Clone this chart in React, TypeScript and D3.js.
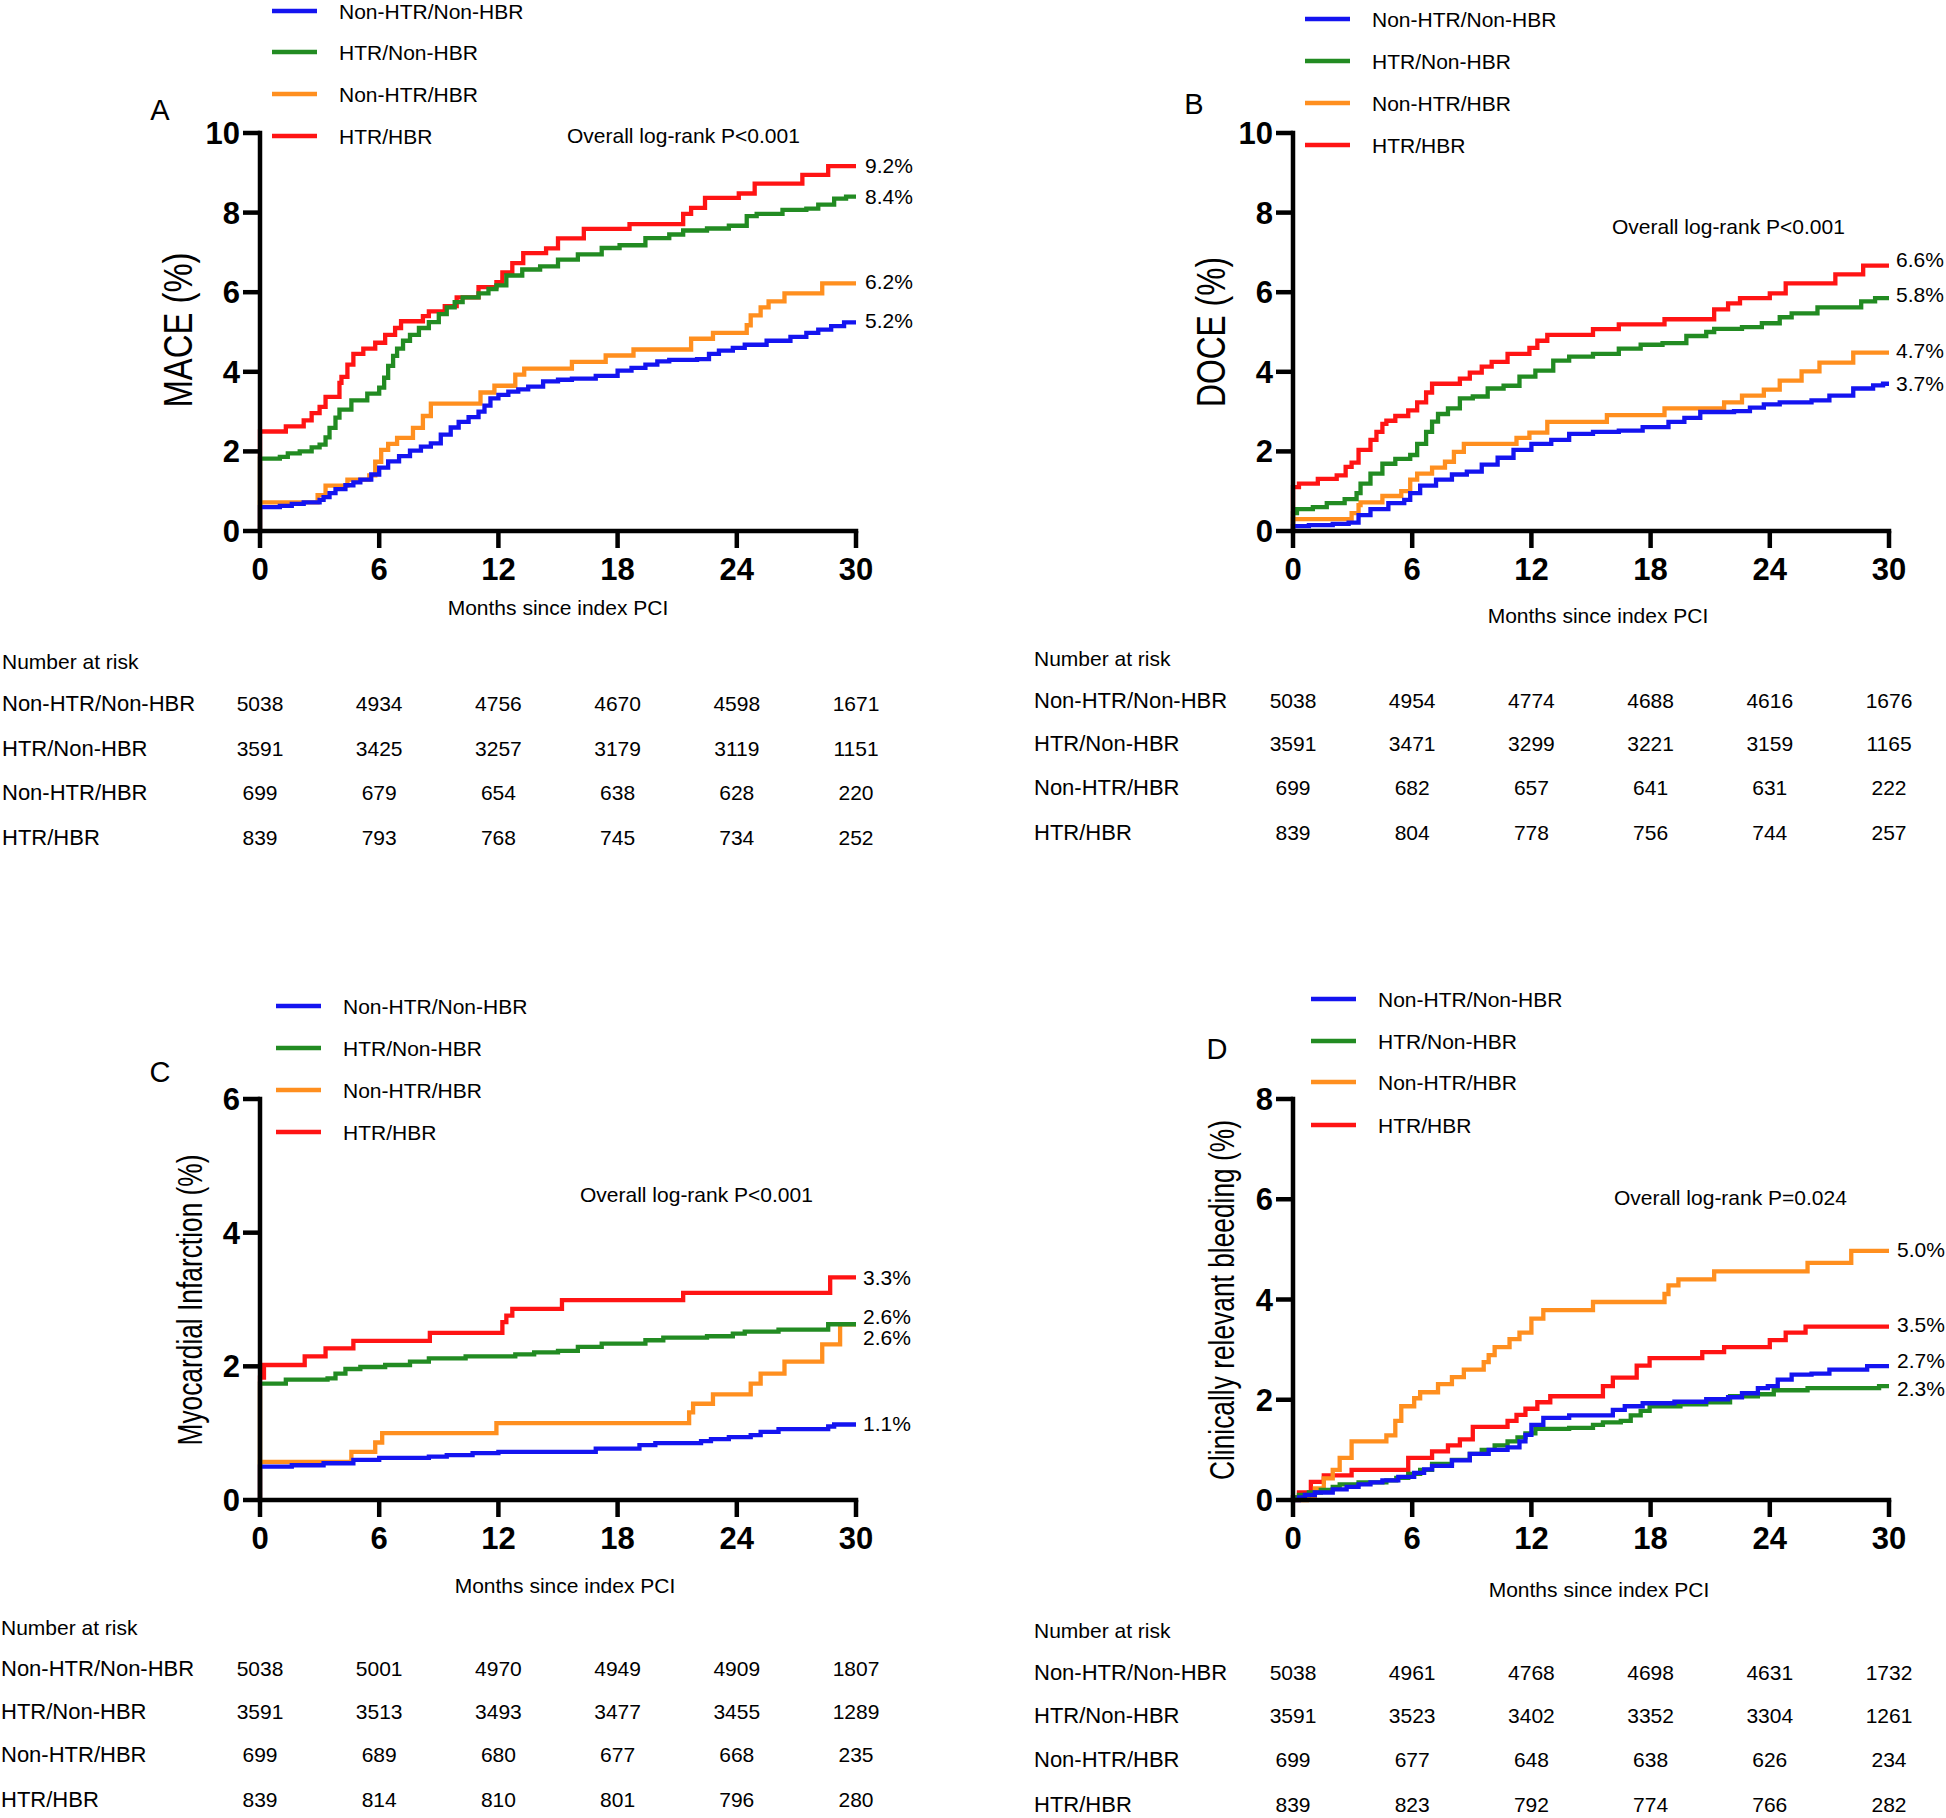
import React from "react";
import * as d3 from "d3";

type Pt = [number, number];

const groups = ["Non-HTR/Non-HBR", "HTR/Non-HBR", "Non-HTR/HBR", "HTR/HBR"];
const groupColors = ["#1414F0", "#228B22", "#FF8F1F", "#FF1414"];
const monthTicks = [0, 6, 12, 18, 24, 30];

// ---------- Panel A: MACE ----------
const maceBlue: Pt[] = [[0,0],[0,0.6],[1.0,0.63],[1.6,0.68],[2.2,0.72],[3.0,0.78],[3.2,0.85],[3.5,0.95],[3.8,1.05],[4.3,1.15],[4.7,1.22],[5.05,1.29],[5.6,1.42],[6.0,1.59],[6.45,1.75],[7.0,1.88],[7.55,2.02],[8.1,2.12],[8.6,2.2],[9.1,2.42],[9.6,2.6],[10.0,2.74],[10.5,2.86],[11.0,3.0],[11.3,3.15],[11.6,3.33],[12.0,3.42],[12.5,3.5],[13.0,3.56],[13.5,3.63],[14.25,3.76],[15.0,3.8],[15.7,3.83],[16.9,3.9],[18.0,4.03],[18.7,4.1],[19.4,4.18],[20.0,4.26],[20.6,4.3],[22.0,4.32],[22.6,4.45],[23.1,4.53],[23.8,4.6],[24.4,4.68],[25.5,4.78],[26.7,4.88],[27.5,4.98],[28.1,5.06],[28.75,5.15],[29.4,5.24],[30,5.24]];
const maceGreen: Pt[] = [[0,0],[0,1.82],[1.0,1.86],[1.4,1.95],[2.0,2.0],[2.6,2.1],[3.0,2.17],[3.3,2.35],[3.5,2.59],[3.8,2.85],[4.0,3.05],[4.6,3.28],[5.4,3.45],[6.0,3.6],[6.25,3.85],[6.45,4.15],[6.7,4.4],[6.9,4.58],[7.2,4.78],[7.55,4.93],[8.0,5.1],[8.5,5.25],[9.0,5.45],[9.4,5.62],[9.8,5.75],[10.2,5.87],[11.0,5.97],[11.5,6.08],[11.9,6.17],[12.4,6.42],[13.2,6.57],[14.1,6.65],[15.0,6.82],[16.0,6.95],[17.2,7.11],[18.1,7.18],[19.4,7.36],[20.6,7.45],[21.3,7.55],[22.5,7.6],[23.6,7.67],[24.5,7.91],[25.0,7.97],[26.3,8.07],[27.5,8.1],[28.1,8.2],[28.9,8.35],[29.5,8.4],[30,8.4]];
const maceOrange: Pt[] = [[0,0],[0,0.72],[2.9,0.9],[3.3,1.14],[4.4,1.29],[5.5,1.4],[5.8,1.74],[6.1,2.04],[6.45,2.19],[6.9,2.34],[7.7,2.59],[8.2,2.89],[8.6,3.2],[11.1,3.48],[11.8,3.65],[12.85,3.93],[13.3,4.08],[15.7,4.25],[17.4,4.41],[18.8,4.56],[21.7,4.83],[22.8,4.98],[24.5,5.17],[24.7,5.42],[25.2,5.62],[25.6,5.77],[26.4,5.97],[28.3,6.22],[30,6.22]];
const maceRed: Pt[] = [[0,0],[0,2.5],[1.3,2.63],[2.2,2.78],[2.6,2.96],[3.0,3.12],[3.3,3.37],[4.0,3.72],[4.1,3.87],[4.4,4.18],[4.7,4.45],[5.2,4.58],[5.8,4.73],[6.3,4.93],[6.8,5.1],[7.1,5.27],[8.2,5.4],[8.5,5.52],[9.3,5.65],[9.9,5.87],[11.0,6.13],[11.9,6.25],[12.2,6.5],[12.7,6.73],[13.25,6.98],[14.4,7.1],[15.0,7.35],[16.3,7.59],[18.6,7.71],[21.3,7.97],[21.7,8.12],[22.4,8.37],[24.1,8.48],[24.9,8.73],[27.3,8.95],[28.6,9.17],[30,9.17]];

// ---------- Panel B: DOCE ----------
const doceBlue: Pt[] = [[0,0],[0,0.12],[0.8,0.15],[2.0,0.18],[2.8,0.21],[3.3,0.4],[3.9,0.55],[4.8,0.7],[5.6,0.78],[5.9,0.95],[6.4,1.14],[7.2,1.29],[8.0,1.42],[8.75,1.49],[9.5,1.67],[10.3,1.84],[11.1,2.04],[12.0,2.19],[13.0,2.29],[13.9,2.44],[15.1,2.49],[16.4,2.52],[17.6,2.61],[18.9,2.74],[19.7,2.84],[20.5,2.99],[22.2,3.01],[23.0,3.1],[23.7,3.18],[24.5,3.23],[26.1,3.28],[27.0,3.4],[28.2,3.58],[29.2,3.66],[29.7,3.7],[30,3.7]];
const doceGreen: Pt[] = [[0,0],[0,0.45],[0.2,0.55],[1.0,0.6],[1.7,0.7],[2.6,0.8],[3.2,0.95],[3.4,1.19],[3.9,1.44],[4.5,1.69],[5.15,1.81],[5.9,1.91],[6.25,2.19],[6.7,2.49],[7.0,2.75],[7.3,2.94],[7.8,3.08],[8.4,3.33],[9.05,3.38],[9.8,3.58],[10.6,3.65],[11.4,3.88],[12.2,4.03],[13.1,4.28],[13.9,4.38],[15.1,4.45],[16.4,4.58],[17.5,4.68],[18.6,4.72],[19.8,4.9],[20.8,5.0],[21.2,5.08],[22.6,5.12],[23.6,5.22],[24.5,5.37],[25.1,5.47],[26.4,5.62],[28.6,5.77],[29.3,5.85],[30,5.85]];
const doceOrange: Pt[] = [[0,0],[0,0.3],[2.95,0.45],[3.3,0.65],[3.4,0.72],[4.5,0.88],[5.45,1.0],[5.9,1.29],[6.25,1.44],[7.0,1.59],[7.65,1.74],[8.1,1.99],[8.6,2.19],[11.25,2.34],[11.9,2.47],[12.8,2.74],[15.8,2.91],[18.7,3.08],[21.7,3.23],[22.6,3.4],[23.7,3.55],[24.5,3.78],[25.6,4.01],[26.5,4.23],[28.2,4.48],[30,4.48]];
const doceRed: Pt[] = [[0,0],[0,1.1],[0.3,1.19],[1.25,1.31],[2.2,1.4],[2.65,1.61],[2.95,1.72],[3.3,2.04],[3.9,2.29],[4.2,2.49],[4.5,2.69],[4.7,2.77],[5.15,2.89],[5.8,3.03],[6.25,3.23],[6.7,3.48],[7.0,3.7],[8.4,3.83],[8.9,3.98],[9.5,4.13],[10.0,4.25],[10.8,4.45],[11.9,4.6],[12.3,4.78],[12.8,4.93],[15.1,5.07],[16.4,5.19],[18.7,5.32],[21.2,5.57],[21.9,5.72],[22.5,5.85],[24.0,5.97],[24.8,6.22],[27.3,6.45],[28.7,6.67],[30,6.67]];

// ---------- Panel C: Myocardial infarction ----------
const miBlue: Pt[] = [[0,0],[0,0.5],[1.6,0.52],[3.2,0.55],[4.7,0.6],[6.0,0.63],[8.5,0.65],[9.4,0.67],[10.7,0.7],[12.0,0.72],[16.9,0.77],[19.1,0.82],[19.9,0.85],[22.2,0.88],[22.7,0.91],[23.6,0.94],[24.7,0.97],[25.2,1.02],[26.1,1.06],[28.6,1.1],[28.9,1.13],[30,1.13]];
const miGreen: Pt[] = [[0,0],[0,1.74],[1.3,1.8],[3.4,1.82],[3.8,1.89],[4.3,1.96],[5.05,1.99],[6.3,2.02],[7.55,2.07],[8.5,2.12],[10.35,2.15],[12.85,2.18],[13.8,2.21],[15.0,2.23],[16.0,2.29],[17.2,2.34],[19.4,2.39],[20.3,2.43],[22.5,2.45],[23.8,2.49],[24.4,2.52],[26.1,2.55],[28.6,2.63],[30,2.63]];
const miOrange: Pt[] = [[0,0],[0,0.57],[4.6,0.72],[5.8,0.86],[6.15,1.0],[11.9,1.15],[21.6,1.31],[21.8,1.44],[22.8,1.58],[24.7,1.74],[25.2,1.89],[26.4,2.07],[28.3,2.33],[29.2,2.63],[30,2.63]];
const miRed: Pt[] = [[0,0],[0,1.83],[0.2,2.02],[2.25,2.15],[3.3,2.27],[4.7,2.38],[8.55,2.5],[12.2,2.66],[12.4,2.76],[12.7,2.86],[15.2,2.99],[21.3,3.1],[28.7,3.33],[30,3.33]];

// ---------- Panel D: Clinically relevant bleeding ----------
const bleedBlue: Pt[] = [[0,0],[0.3,0.05],[0.6,0.1],[1.1,0.15],[2.0,0.21],[2.7,0.26],[3.3,0.31],[3.9,0.35],[4.5,0.39],[5.3,0.46],[6.1,0.54],[6.6,0.61],[7.0,0.68],[8.0,0.79],[8.9,0.92],[9.85,1.0],[10.8,1.05],[11.4,1.17],[11.7,1.3],[12.0,1.5],[12.6,1.64],[13.9,1.69],[16.1,1.8],[16.7,1.87],[17.6,1.93],[19.2,1.96],[20.8,2.01],[21.9,2.05],[22.6,2.13],[23.4,2.23],[23.9,2.27],[24.4,2.4],[25.1,2.5],[26.1,2.52],[27.0,2.6],[28.9,2.67],[30,2.67]];
const bleedGreen: Pt[] = [[0,0],[0,0.05],[0.3,0.1],[0.8,0.15],[1.4,0.2],[2.0,0.26],[2.35,0.31],[3.3,0.35],[4.7,0.39],[5.2,0.44],[5.8,0.52],[6.4,0.6],[7.0,0.72],[8.0,0.8],[8.9,0.92],[9.5,1.0],[10.15,1.09],[10.8,1.17],[11.3,1.25],[11.7,1.33],[12.2,1.42],[13.9,1.44],[15.1,1.5],[15.6,1.55],[16.5,1.58],[17.0,1.69],[17.5,1.78],[17.95,1.87],[19.5,1.91],[20.8,1.95],[22.0,2.07],[23.4,2.11],[24.2,2.19],[25.9,2.23],[29.5,2.27],[30,2.27]];
const bleedOrange: Pt[] = [[0,0],[0.7,0.05],[1.1,0.23],[1.55,0.43],[2.0,0.6],[2.35,0.84],[2.95,1.17],[4.7,1.29],[5.15,1.58],[5.45,1.87],[6.1,2.03],[6.4,2.15],[7.3,2.31],[8.0,2.45],[8.6,2.6],[9.6,2.75],[9.85,2.89],[10.15,3.05],[10.9,3.21],[11.4,3.34],[12.0,3.62],[12.6,3.79],[15.1,3.95],[18.7,4.11],[18.9,4.28],[19.4,4.4],[21.2,4.56],[25.9,4.73],[28.1,4.97],[30,4.97]];
const bleedRed: Pt[] = [[0,0],[0,0.05],[0.3,0.15],[0.9,0.36],[1.55,0.49],[2.95,0.6],[5.8,0.84],[7.0,0.97],[7.8,1.09],[8.4,1.21],[9.05,1.46],[10.8,1.58],[11.25,1.7],[11.7,1.82],[12.3,1.95],[12.95,2.07],[15.6,2.27],[16.1,2.44],[17.3,2.68],[17.95,2.83],[20.6,2.95],[21.7,3.05],[24.0,3.19],[24.8,3.34],[25.8,3.46],[30,3.46]];

// end-of-follow-up labels (group order)
const maceEnd = ["5.2%", "8.4%", "6.2%", "9.2%"];
const doceEnd = ["3.7%", "5.8%", "4.7%", "6.6%"];
const miEnd = ["1.1%", "2.6%", "2.6%", "3.3%"];
const bleedEnd = ["2.7%", "2.3%", "5.0%", "3.5%"];

// numbers at risk (rows in group order, columns at monthTicks)
const maceRisk = [[5038,4934,4756,4670,4598,1671],[3591,3425,3257,3179,3119,1151],[699,679,654,638,628,220],[839,793,768,745,734,252]];
const doceRisk = [[5038,4954,4774,4688,4616,1676],[3591,3471,3299,3221,3159,1165],[699,682,657,641,631,222],[839,804,778,756,744,257]];
const miRisk = [[5038,5001,4970,4949,4909,1807],[3591,3513,3493,3477,3455,1289],[699,689,680,677,668,235],[839,814,810,801,796,280]];
const bleedRisk = [[5038,4961,4768,4698,4631,1732],[3591,3523,3402,3352,3304,1261],[699,677,648,638,626,234],[839,823,792,774,766,282]];

const maceTicks = [0, 2, 4, 6, 8, 10];
const doceTicks = [0, 2, 4, 6, 8, 10];
const miTicks = [0, 2, 4, 6];
const bleedTicks = [0, 2, 4, 6, 8];

const FONT = "'Liberation Sans', Arial, Helvetica, sans-serif";

type PanelCfg = {
  letter: string; yTitle: string; pText: string;
  series: Pt[][]; ends: string[]; endDy: number[]; risk: number[][];
  yTicks: number[];
  left: number; right: number; top: number; bottom: number;
  letterX: number; letterY: number;
  legX: number; legRows: number[];
  pX: number; pY: number;
  endX: number;
  monthsX: number; monthsY: number;
  yTitleX: number; yTitleY: number; yTitleLen: number; yTitleFs: number;
  tableX: number; tableHeadY: number; tableRows: number[];
};

const panels: PanelCfg[] = [
  {
    letter: "A", yTitle: "MACE (%)", pText: "Overall log-rank P<0.001",
    series: [maceBlue, maceGreen, maceOrange, maceRed], ends: maceEnd, endDy: [-2, 0, -2, -1], risk: maceRisk,
    yTicks: maceTicks,
    left: 260, right: 856, top: 133, bottom: 531,
    letterX: 160, letterY: 109, legX: 272, legRows: [11, 52, 94, 136],
    pX: 567, pY: 135, endX: 865, monthsX: 558, monthsY: 607,
    yTitleX: 177, yTitleY: 330, yTitleLen: 155, yTitleFs: 41,
    tableX: 2, tableHeadY: 661, tableRows: [703, 748, 792, 837],
  },
  {
    letter: "B", yTitle: "DOCE (%)", pText: "Overall log-rank P<0.001",
    series: [doceBlue, doceGreen, doceOrange, doceRed], ends: doceEnd, endDy: [0, -4, -2, -6], risk: doceRisk,
    yTicks: doceTicks,
    left: 1293, right: 1889, top: 133, bottom: 531,
    letterX: 1194, letterY: 103, legX: 1305, legRows: [19, 61, 103, 145],
    pX: 1612, pY: 226, endX: 1896, monthsX: 1598, monthsY: 615,
    yTitleX: 1210, yTitleY: 332, yTitleLen: 150, yTitleFs: 41,
    tableX: 1034, tableHeadY: 658, tableRows: [700, 743, 787, 832],
  },
  {
    letter: "C", yTitle: "Myocardial Infarction (%)", pText: "Overall log-rank P<0.001",
    series: [miBlue, miGreen, miOrange, miRed], ends: miEnd, endDy: [-1, -8, 13, 0], risk: miRisk,
    yTicks: miTicks,
    left: 260, right: 856, top: 1099, bottom: 1500,
    letterX: 160, letterY: 1071, legX: 276, legRows: [1006, 1048, 1090, 1132],
    pX: 580, pY: 1194, endX: 863, monthsX: 565, monthsY: 1585,
    yTitleX: 189, yTitleY: 1300, yTitleLen: 291, yTitleFs: 35,
    tableX: 1, tableHeadY: 1627, tableRows: [1668, 1711, 1754, 1799],
  },
  {
    letter: "D", yTitle: "Clinically relevant bleeding (%)", pText: "Overall log-rank P=0.024",
    series: [bleedBlue, bleedGreen, bleedOrange, bleedRed], ends: bleedEnd, endDy: [-6, 2, -1, -2], risk: bleedRisk,
    yTicks: bleedTicks,
    left: 1293, right: 1889, top: 1099, bottom: 1500,
    letterX: 1217, letterY: 1048, legX: 1311, legRows: [999, 1041, 1082, 1125],
    pX: 1614, pY: 1197, endX: 1897, monthsX: 1599, monthsY: 1589,
    yTitleX: 1221, yTitleY: 1300, yTitleLen: 360, yTitleFs: 35,
    tableX: 1034, tableHeadY: 1630, tableRows: [1672, 1715, 1759, 1804],
  },
];

const drawOrder = [3, 2, 1, 0];

function Panel({ cfg }: { cfg: PanelCfg }) {
  const yMax = cfg.yTicks[cfg.yTicks.length - 1];
  const x = d3.scaleLinear().domain([0, 30]).range([cfg.left, cfg.right]);
  const y = d3.scaleLinear().domain([0, yMax]).range([cfg.bottom, cfg.top]);
  const line = d3.line<Pt>().x((d) => x(d[0])).y((d) => y(d[1])).curve(d3.curveStepAfter);
  const tickLen = 17;
  const axisW = 4.5;
  return (
    <g fontFamily={FONT} fill="#000">
      {/* panel letter */}
      <text x={cfg.letterX} y={cfg.letterY + 10.5} fontSize={29} textAnchor="middle">{cfg.letter}</text>
      {/* legend */}
      {groups.map((g, i) => (
        <g key={g}>
          <line x1={cfg.legX} x2={cfg.legX + 45} y1={cfg.legRows[i]} y2={cfg.legRows[i]} stroke={groupColors[i]} strokeWidth={4.5} />
          <text x={cfg.legX + 67} y={cfg.legRows[i] + 7.5} fontSize={21}>{g}</text>
        </g>
      ))}
      {/* curves */}
      {drawOrder.map((i) => (
        <path key={i} d={line(cfg.series[i]) || ""} fill="none" stroke={groupColors[i]} strokeWidth={4.3} strokeLinejoin="miter" />
      ))}
      {/* axes */}
      <line x1={cfg.left} x2={cfg.left} y1={cfg.top - axisW / 2} y2={cfg.bottom + axisW / 2} stroke="#000" strokeWidth={axisW} />
      <line x1={cfg.left} x2={cfg.right + axisW / 2} y1={cfg.bottom} y2={cfg.bottom} stroke="#000" strokeWidth={axisW} />
      {cfg.yTicks.map((t) => (
        <g key={"y" + t}>
          <line x1={cfg.left - tickLen} x2={cfg.left} y1={y(t)} y2={y(t)} stroke="#000" strokeWidth={axisW} />
          <text x={cfg.left - 20} y={y(t) + 11} fontSize={31} fontWeight="bold" textAnchor="end">{t}</text>
        </g>
      ))}
      {monthTicks.map((t) => (
        <g key={"x" + t}>
          <line x1={x(t)} x2={x(t)} y1={cfg.bottom} y2={cfg.bottom + tickLen} stroke="#000" strokeWidth={axisW} />
          <text x={x(t)} y={cfg.bottom + 49} fontSize={31} fontWeight="bold" textAnchor="middle">{t}</text>
        </g>
      ))}
      {/* axis titles */}
      <text x={cfg.monthsX} y={cfg.monthsY + 7.5} fontSize={21} textAnchor="middle">Months since index PCI</text>
      <text
        transform={`translate(${cfg.yTitleX + cfg.yTitleFs * 0.358},${cfg.yTitleY}) rotate(-90)`}
        fontSize={cfg.yTitleFs}
        textAnchor="middle"
        textLength={cfg.yTitleLen}
        lengthAdjust="spacingAndGlyphs"
      >
        {cfg.yTitle}
      </text>
      {/* p value */}
      <text x={cfg.pX} y={cfg.pY + 7.5} fontSize={21}>{cfg.pText}</text>
      {/* end labels */}
      {cfg.series.map((s, i) => (
        <text key={"e" + i} x={cfg.endX} y={y(s[s.length - 1][1]) + cfg.endDy[i] + 7.5} fontSize={21}>{cfg.ends[i]}</text>
      ))}
      {/* number at risk */}
      <text x={cfg.tableX} y={cfg.tableHeadY + 7.5} fontSize={21}>Number at risk</text>
      {groups.map((g, i) => (
        <g key={"r" + g}>
          <text x={cfg.tableX} y={cfg.tableRows[i] + 8} fontSize={22}>{g}</text>
          {cfg.risk[i].map((v, j) => (
            <text key={j} x={x(monthTicks[j])} y={cfg.tableRows[i] + 8} fontSize={21} textAnchor="middle">{v}</text>
          ))}
        </g>
      ))}
    </g>
  );
}

export default function App() {
  return (
    <svg
      width={1946}
      height={1818}
      viewBox="0 0 1946 1818"
      style={{ position: "absolute", left: 0, top: 0, background: "#fff" }}
    >
      <rect x={0} y={0} width={1946} height={1818} fill="#fff" />
      {panels.map((p) => (
        <Panel key={p.letter} cfg={p} />
      ))}
    </svg>
  );
}
